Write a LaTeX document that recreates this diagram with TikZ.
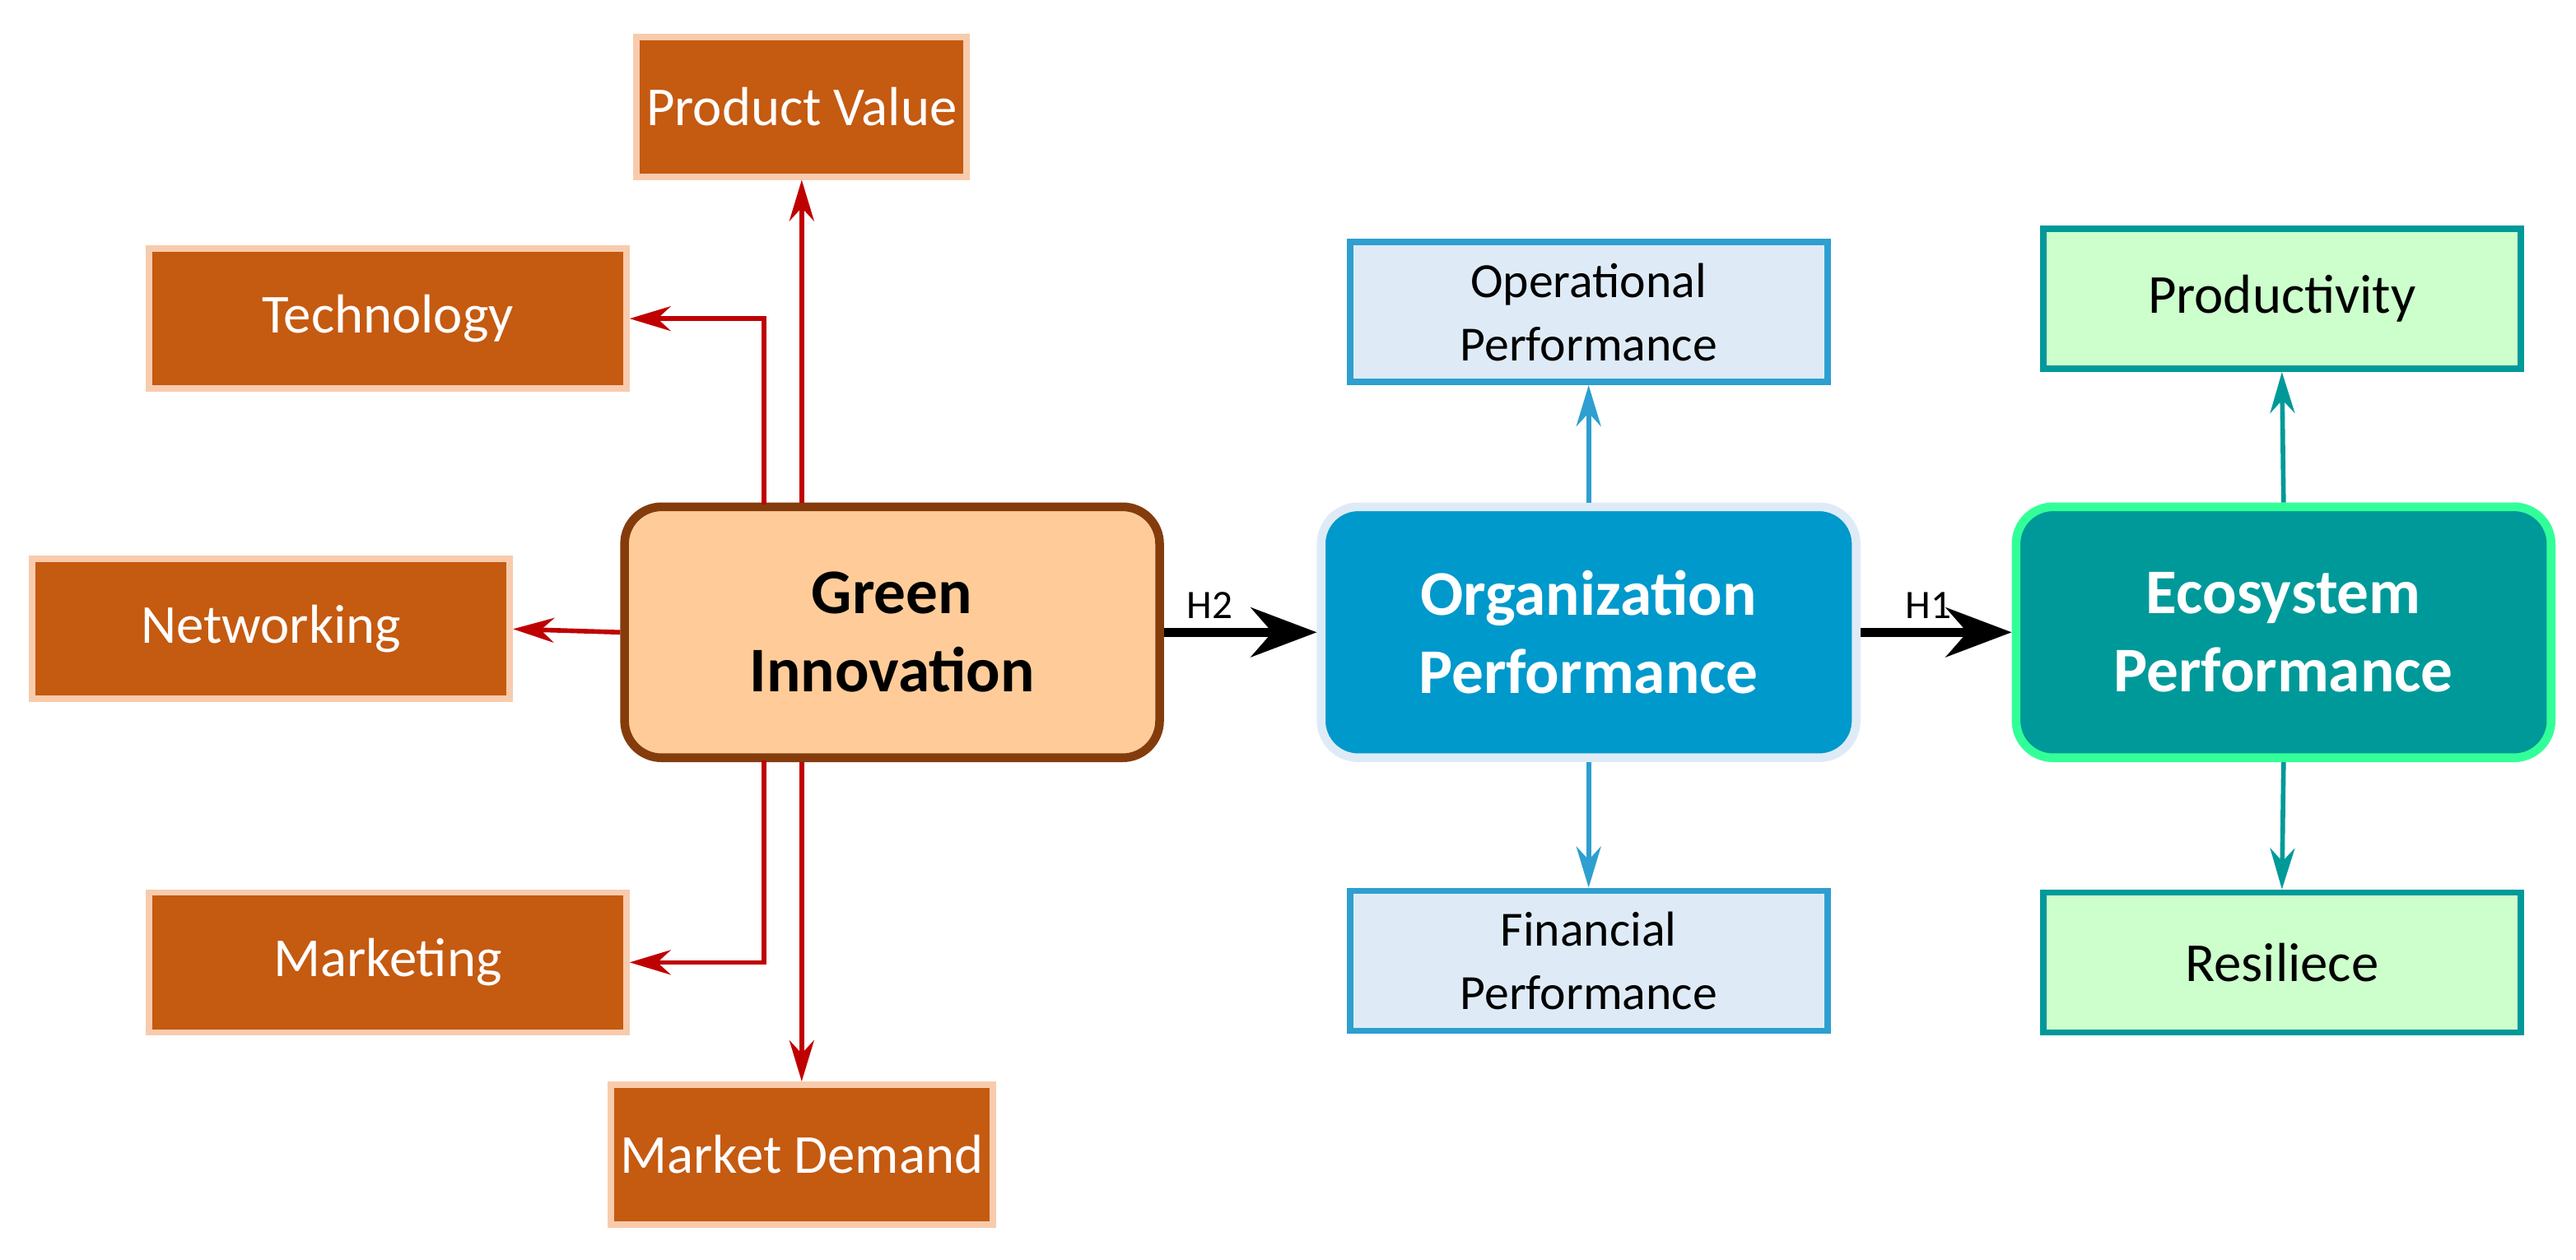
\documentclass[tikz,border=0pt]{standalone}
\usepackage{fontspec}
\setmainfont{Carlito}
\usetikzlibrary{arrows.meta,positioning}
\definecolor{rust}{HTML}{C55A11}
\definecolor{peach}{HTML}{F8CBAD}
\definecolor{lightpeach}{HTML}{FFCC99}
\definecolor{brownline}{HTML}{843C0C}
\definecolor{skyblue}{HTML}{0099CC}
\definecolor{paleblue}{HTML}{DEEBF7}
\definecolor{lineblue}{HTML}{2E9FD0}
\definecolor{teal}{HTML}{009999}
\definecolor{mint}{HTML}{33FF99}
\definecolor{palegreen}{HTML}{CCFFCC}
\tikzset{
  sub/.style={draw, line width=2.2pt, minimum width=5.8cm, minimum height=1.7cm, align=center, font=\fontsize{19}{22}\selectfont},
  orsub/.style={sub, fill=rust, draw=peach, text=white},
  bluesub/.style={sub, fill=paleblue, draw=lineblue},
  greensub/.style={sub, fill=palegreen, draw=teal},
  core/.style={draw, line width=3pt, rounded corners=0.45cm, minimum width=6.5cm, minimum height=3.05cm, align=center, font=\fontsize{22}{27}\selectfont\bfseries},
  link/.style={line width=1.6pt, -{Stealth[length=5mm,width=3mm]}},
  main/.style={line width=3pt, -{Stealth[length=8mm,width=6mm]}}
}
\begin{document}
\begin{tikzpicture}[x=0.01996cm,y=-0.01996cm]
\useasboundingbox (0,0) rectangle (1568,767);

\node[core, fill=lightpeach, draw=brownline] (green) at (543,385) {Green\\Innovation};
\node[core, fill=skyblue, draw=paleblue, text=white] (org) at (967,385) {Organization\\Performance};
\node[core, fill=teal, draw=mint, text=white] (eco) at (1390,385) {Ecosystem\\Performance};

\node[orsub, minimum width=3.6cm] (value) at (488,65) {Product Value};
\node[orsub] (tech) at (236,194) {Technology};
\node[orsub] (net) at (165,383) {Networking};
\node[orsub] (mkt) at (236,586) {Marketing};
\node[orsub, minimum width=3.6cm] (demand) at (488,703) {Market Demand};

\node[bluesub, font=\fontsize{17}{22}\selectfont] (oper) at (967,190) {Operational\\Performance};
\node[bluesub, font=\fontsize{17}{22}\selectfont] (fin) at (967,585) {Financial\\Performance};
\node[greensub] (prod) at (1389,182) {Productivity};
\node[greensub] (res) at (1389,586) {Resiliece};

\coordinate (gt) at (465,307);
\coordinate (gb) at (465,463);

\draw[link, red!75!black] (green.north -| value) -- (value.south);
\draw[link, red!75!black] (gt) |- (tech.east);
\draw[link, red!75!black] (green.west) -- (net.east);
\draw[link, red!75!black] (gb) |- (mkt.east);
\draw[link, red!75!black] (green.south -| demand) -- (demand.north);

\draw[link, lineblue] (org.north) -- (oper.south);
\draw[link, lineblue] (org.south) -- (fin.north);
\draw[link, teal] (eco.north) -- (prod.south);
\draw[link, teal] (eco.south) -- (res.north);

\draw[main] (green.east) -- node[above, pos=0.3, font=\fontsize{14}{16}\selectfont] {H2} (org.west);
\draw[main] (org.east) -- node[above, pos=0.45, font=\fontsize{14}{16}\selectfont] {H1} (eco.west);
\end{tikzpicture}
\end{document}
